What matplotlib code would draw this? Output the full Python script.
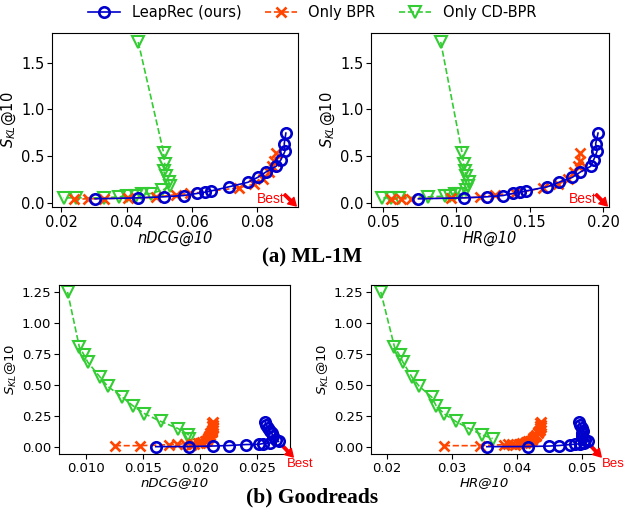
import matplotlib
matplotlib.use("Agg")
import matplotlib.pyplot as plt

matplotlib.rcParams.update({'font.size': 10})

# ---- ML-1M ----
ml_leap_skl = [0.043, 0.053, 0.064, 0.078, 0.100, 0.113, 0.128, 0.171, 0.220, 0.273, 0.330, 0.391, 0.462, 0.550, 0.633, 0.747]
ml_leap_ndcg = [0.0303, 0.0435, 0.0513, 0.0574, 0.0615, 0.0638, 0.0659, 0.0712, 0.0771, 0.0801, 0.0826, 0.0857, 0.0872, 0.0884, 0.0882, 0.0887]
ml_leap_hr = [0.0741, 0.1052, 0.1205, 0.1318, 0.1386, 0.1436, 0.1477, 0.1618, 0.1699, 0.1790, 0.1845, 0.1915, 0.1936, 0.1958, 0.1949, 0.1965]

ml_bpr_skl = [0.040, 0.042, 0.045, 0.050, 0.060, 0.088, 0.100, 0.160, 0.200, 0.250, 0.330, 0.390, 0.450, 0.530]
ml_bpr_ndcg = [0.0237, 0.0280, 0.0330, 0.0405, 0.0490, 0.0550, 0.0595, 0.0742, 0.0790, 0.0818, 0.0835, 0.0844, 0.0852, 0.0857]
ml_bpr_hr = [0.0557, 0.0620, 0.0693, 0.0966, 0.1160, 0.1260, 0.1400, 0.1590, 0.1690, 0.1760, 0.1800, 0.1830, 0.1840, 0.1840]

ml_cd_skl = [1.724, 0.533, 0.416, 0.337, 0.284, 0.220, 0.177, 0.135, 0.099, 0.089, 0.078, 0.071, 0.064, 0.053, 0.053, 0.053]
ml_cd_ndcg = [0.0435, 0.0513, 0.0516, 0.0513, 0.0519, 0.0529, 0.0532, 0.0509, 0.0473, 0.0448, 0.0427, 0.0402, 0.0376, 0.0330, 0.0244, 0.0207]
ml_cd_hr = [0.0893, 0.1039, 0.1050, 0.1057, 0.1068, 0.1086, 0.1080, 0.1068, 0.1023, 0.0990, 0.0955, 0.0921, 0.0807, 0.0609, 0.0555, 0.0496]

# ---- Goodreads ----
gr_leap_skl = [0.003, 0.004, 0.008, 0.012, 0.020, 0.022, 0.028, 0.032, 0.045, 0.059, 0.085, 0.110, 0.126, 0.154, 0.180, 0.205]
gr_leap_ndcg = [0.0161, 0.0190, 0.0211, 0.0225, 0.0240, 0.0252, 0.0255, 0.0261, 0.0269, 0.0267, 0.0264, 0.0263, 0.0261, 0.0260, 0.0258, 0.0257]
gr_leap_hr = [0.0354, 0.0417, 0.0450, 0.0465, 0.0482, 0.0490, 0.0498, 0.0503, 0.0510, 0.0505, 0.0501, 0.0500, 0.0502, 0.0500, 0.0498, 0.0495]

gr_bpr_skl = [0.011, 0.011, 0.019, 0.022, 0.027, 0.020, 0.025, 0.030, 0.035, 0.040, 0.045, 0.050, 0.060, 0.070,
              0.080, 0.090, 0.100, 0.110, 0.120, 0.130, 0.140, 0.150, 0.160, 0.170, 0.180, 0.190, 0.205]
gr_bpr_ndcg = [0.0125, 0.0147, 0.0173, 0.0180, 0.0187, 0.0192, 0.0195, 0.0198, 0.0200, 0.0202, 0.0204, 0.0205, 0.0206, 0.0207,
               0.0208, 0.0208, 0.0209, 0.0209, 0.0210, 0.0210, 0.0210, 0.0211, 0.0211, 0.0210, 0.0211, 0.0210, 0.0211]
gr_bpr_hr = [0.0288, 0.0344, 0.0380, 0.0386, 0.0392, 0.0398, 0.0403, 0.0408, 0.0412, 0.0415, 0.0418, 0.0421, 0.0423, 0.0425,
             0.0427, 0.0429, 0.0430, 0.0432, 0.0433, 0.0434, 0.0435, 0.0436, 0.0437, 0.0435, 0.0438, 0.0436, 0.0437]

gr_cd_skl = [1.25, 0.808, 0.738, 0.684, 0.563, 0.490, 0.404, 0.334, 0.269, 0.207, 0.148, 0.100, 0.068]
gr_cd_ndcg = [0.00835, 0.00938, 0.00982, 0.01012, 0.01121, 0.01186, 0.01313, 0.01407, 0.01511, 0.01652, 0.01808, 0.01897, 0.01903]
gr_cd_hr = [0.0191, 0.0212, 0.0220, 0.0225, 0.0239, 0.0250, 0.0269, 0.0276, 0.0288, 0.0306, 0.0327, 0.0346, 0.0363]

labels = ["LeapRec (ours)", "Only BPR", "Only CD-BPR"]

BLUE = "#0000cc"
ORANGE = "#ff4500"
GREEN = "#33cc33"


def draw_panel(ax, leap, bpr, cd, xlabel, fs):
    lines = []
    lines += ax.plot(leap[0], leap[1], "-o", color=BLUE, mfc="none", mew=1.9, ms=7.5, lw=1.2, zorder=4)
    lines += ax.plot(bpr[0], bpr[1], "--x", color=ORANGE, mew=1.9, ms=7.5, lw=1.2, zorder=3)
    lines += ax.plot(cd[0], cd[1], "--v", color=GREEN, mfc="none", mew=1.5, ms=8, lw=1.2, zorder=2)
    ax.set_xlabel(xlabel, style="italic", fontsize=fs, labelpad=1)
    ax.set_ylabel(r"$S_{KL}$@10", fontsize=fs, labelpad=2)
    ax.tick_params(labelsize=fs, pad=2)
    return lines


fig = plt.figure(figsize=(6.24, 5.18), dpi=100)

# top row (ML-1M)
ax1 = fig.add_axes([0.0833, 0.6004, 0.3942, 0.3359])
lines = draw_panel(ax1, (ml_leap_ndcg, ml_leap_skl), (ml_bpr_ndcg, ml_bpr_skl), (ml_cd_ndcg, ml_cd_skl), "nDCG@10", 10.5)
ax1.set_xlim(0.0171, 0.0924)
ax1.set_ylim(-0.045, 1.82)
ax1.set_xticks([0.02, 0.04, 0.06, 0.08])
ax1.set_yticks([0.0, 0.5, 1.0, 1.5])

ax2 = fig.add_axes([0.5946, 0.6004, 0.3814, 0.3359])
draw_panel(ax2, (ml_leap_hr, ml_leap_skl), (ml_bpr_hr, ml_bpr_skl), (ml_cd_hr, ml_cd_skl), "HR@10", 10.5)
ax2.set_xlim(0.0418, 0.2040)
ax2.set_ylim(-0.045, 1.82)
ax2.set_xticks([0.05, 0.10, 0.15, 0.20])
ax2.set_yticks([0.0, 0.5, 1.0, 1.5])

# bottom row (Goodreads)
ax3 = fig.add_axes([0.0946, 0.1236, 0.3702, 0.3263])
draw_panel(ax3, (gr_leap_ndcg, gr_leap_skl), (gr_bpr_ndcg, gr_bpr_skl), (gr_cd_ndcg, gr_cd_skl), "nDCG@10", 9.5)
ax3.set_xlim(0.0076, 0.0279)
ax3.set_ylim(-0.056, 1.306)
ax3.set_xticks([0.010, 0.015, 0.020, 0.025])
ax3.set_yticks([0.0, 0.25, 0.5, 0.75, 1.0, 1.25])

ax4 = fig.add_axes([0.5946, 0.1236, 0.3638, 0.3263])
draw_panel(ax4, (gr_leap_hr, gr_leap_skl), (gr_bpr_hr, gr_bpr_skl), (gr_cd_hr, gr_cd_skl), "HR@10", 9.5)
ax4.set_xlim(0.0176, 0.0525)
ax4.set_ylim(-0.056, 1.306)
ax4.set_xticks([0.02, 0.03, 0.04, 0.05])
ax4.set_yticks([0.0, 0.25, 0.5, 0.75, 1.0, 1.25])

# "Best" arrows
arrow = dict(color="red", width=1.8, headwidth=6.5, headlength=5.5)
best_font = dict(color="red", family="Liberation Sans")
for ax in (ax1, ax2):
    ax.annotate("", xy=(0.993, 0.006), xytext=(0.945, 0.072), xycoords="axes fraction",
                arrowprops=arrow, annotation_clip=False)
    ax.text(0.89, 0.046, "Best", ha="center", va="center", transform=ax.transAxes,
            fontsize=10, **best_font)
for ax in (ax3, ax4):
    ax.annotate("", xy=(1.014, -0.018), xytext=(0.97, 0.045), xycoords="axes fraction",
                arrowprops=arrow, annotation_clip=False)
    ax.text(0.988 if ax is ax3 else 1.018, -0.058, "Best", ha="left", va="center",
            transform=ax.transAxes, fontsize=9.5, **best_font)

fig.legend(lines, labels, loc="upper center", bbox_to_anchor=(0.5, 1.015), ncol=3,
           frameon=False, fontsize=10.5, handlelength=2.2, columnspacing=1.6, handletextpad=0.8)

fig.text(0.5, 1 - 257 / 518, "(a) ML-1M", ha="center", va="center", fontsize=15,
         fontweight="bold", family="Liberation Serif")
fig.text(0.5, 1 - 497 / 518, "(b) Goodreads", ha="center", va="center", fontsize=15.5,
         fontweight="bold", family="Liberation Serif")

plt.savefig("out.png", dpi=100)
